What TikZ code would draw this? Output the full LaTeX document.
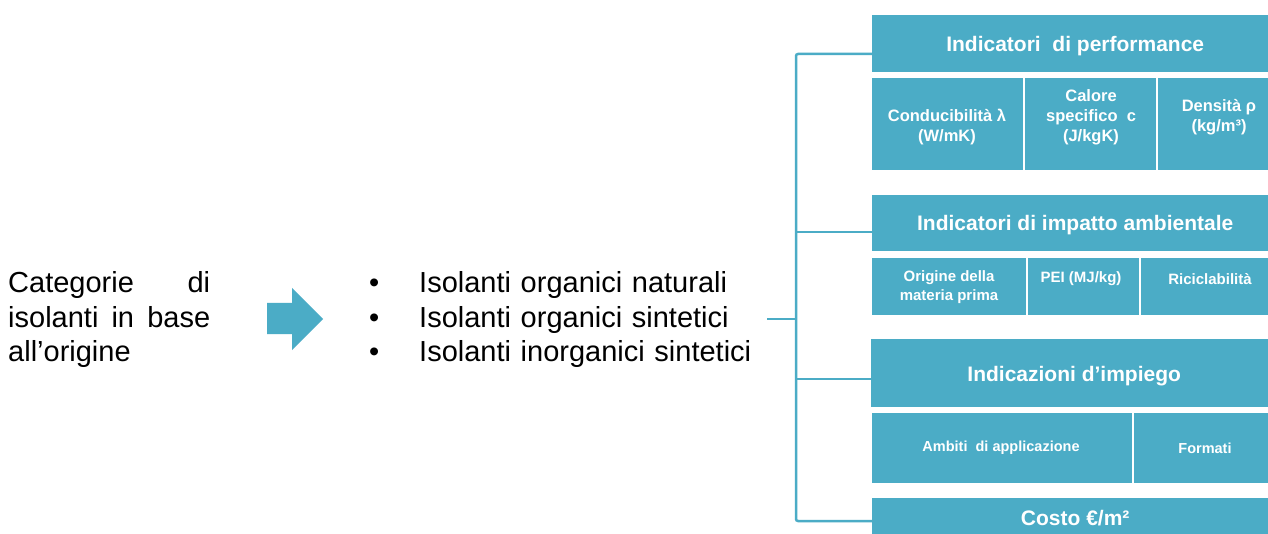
\documentclass[tikz,border=0pt]{standalone}
\usepackage{fontspec}
\setmainfont{Liberation Sans}
\definecolor{aqua}{RGB}{75,172,198}

\tikzset{
    box/.style={fill=aqua, text=white, anchor=north west, inner sep=0pt},
    head/.style={box, minimum width=406pt, text depth=4.5pt, font=\bfseries\fontsize{21}{25}\selectfont},
    celltext/.style={text=white, align=center, inner sep=0pt},
    brk/.style={draw=aqua, line width=2.5pt, rounded corners=2pt}
}

\begin{document}
\begin{tikzpicture}[x=1pt, y=-1pt]

    % Frame of the picture (image pixels, y downwards)
    \clip (0,0) rectangle (1268,534);
    \fill[white] (0,0) rectangle (1268,534);

    % Left text, justified
    \node[anchor=base west, inner sep=0pt, text width=202pt, align=left,
          font=\fontsize{29}{34.5}\selectfont] (cat) at (8,293)
        {Categorie\hfill di\\isolanti\hfill in\hfill base\\all’origine};

    % Block arrow
    \fill[aqua] (267,303) -- (292,303) -- (292,288) -- (323,319)
        -- (292,350) -- (292,334) -- (267,334) -- cycle;

    % Bullet list
    \node[anchor=base west, inner sep=0pt, text width=400pt, align=left,
          font=\fontsize{29}{34.5}\selectfont] (list) at (369,293)
        {\makebox[50pt][l]{•}Isolanti organici naturali\\
         \makebox[50pt][l]{•}Isolanti organici sintetici\\
         \makebox[50pt][l]{•}Isolanti inorganici sintetici};

    % Headers on the right
    \node[head, minimum height=57pt, text height=21pt] (h1) at (872,15) {Indicatori\ \ di performance};
    \node[head, minimum height=56pt, text height=19.5pt] (h2) at (872,195) {Indicatori di impatto ambientale};
    \node[head, minimum height=68pt, text height=21pt] (h3) at (871,339) {Indicazioni d’impiego};
    \node[head, minimum height=46pt, text height=15.3pt, text depth=6pt] (h4) at (872,498) {Costo €/m²};

    % Cells under performance
    \node[box, minimum width=151pt, minimum height=92pt] (c11) at (872,78) {};
    \node[box, minimum width=131pt, minimum height=92pt] (c12) at (1025,78) {};
    \node[box, minimum width=122pt, minimum height=92pt] (c13) at (1158,78) {};
    \node[celltext, font=\bfseries\fontsize{16.5}{20}\selectfont] (t11) at (947,127)
        {Conducibilità λ\\(W/mK)};
    \node[celltext, font=\bfseries\fontsize{16.5}{20}\selectfont] (t12) at (1091,117)
        {Calore\\specifico\ \ c\\(J/kgK)};
    \node[celltext, font=\bfseries\fontsize{16.5}{20}\selectfont] (t13) at (1219,117)
        {Densità ρ\\(kg/m³)};

    % Cells under environmental impact
    \node[box, minimum width=154pt, minimum height=57pt] (c21) at (872,258) {};
    \node[box, minimum width=111pt, minimum height=57pt] (c22) at (1028,258) {};
    \node[box, minimum width=139pt, minimum height=57pt] (c23) at (1141,258) {};
    \node[celltext, font=\bfseries\fontsize{15}{19}\selectfont] (t21) at (949,287)
        {Origine della\\materia prima};
    \node[celltext, font=\bfseries\fontsize{15}{19}\selectfont] (t22) at (1081,279)
        {PEI (MJ/kg)};
    \node[celltext, font=\bfseries\fontsize{15}{19}\selectfont] (t23) at (1210,279)
        {Riciclabilità};

    % Cells under use
    \node[box, minimum width=260pt, minimum height=70pt] (c31) at (872,413) {};
    \node[box, minimum width=146pt, minimum height=70pt] (c32) at (1134,413) {};
    \node[celltext, font=\bfseries\fontsize{14.5}{18}\selectfont] (t31) at (1001,448)
        {Ambiti\ \ di applicazione};
    \node[celltext, font=\bfseries\fontsize{14.5}{18}\selectfont] (t32) at (1205,448)
        {Formati};

    % Bracket joining the list to the headers
    \coordinate (src) at (767,319);
    \coordinate (jm) at (796,319);
    \coordinate (j1) at (796,54);
    \coordinate (j2) at (796,232);
    \coordinate (j3) at (796,379);
    \coordinate (j4) at (796,521);
    \draw[brk] (j1 -| h1.west) -- (j1) -- (j4) -- (j4 -| h4.west);
    \draw[brk] (j2) -- (j2 -| h2.west);
    \draw[brk] (j3) -- (j3 -| h3.west);
    \draw[brk] (src) -- (jm);

\end{tikzpicture}
\end{document}
